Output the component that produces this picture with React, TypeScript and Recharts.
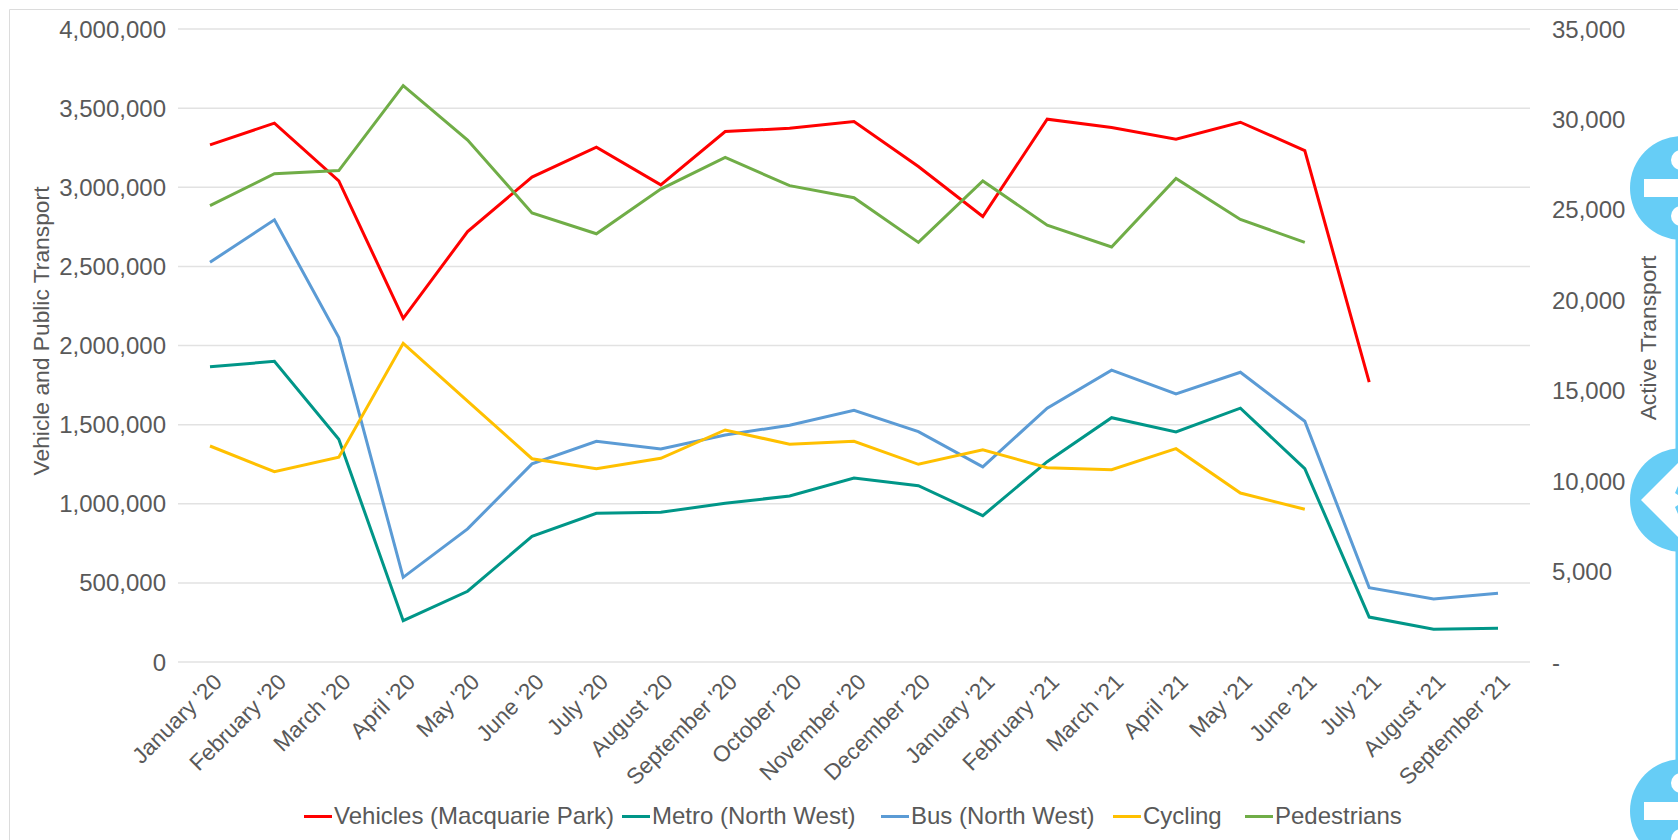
import React from "react";
import { LineChart, Line, XAxis, YAxis, CartesianGrid, Legend } from "recharts";

const months = ["January '20","February '20","March '20","April '20","May '20","June '20","July '20","August '20","September '20","October '20","November '20","December '20","January '21","February '21","March '21","April '21","May '21","June '21","July '21","August '21","September '21"];
const vehicles = [3268000,3405000,3040000,2172000,2720000,3064000,3253000,3015000,3352000,3373000,3415000,3131000,2815000,3430000,3377000,3304000,3411000,3232000,1768000,null,null];
const metro = [1865000,1900000,1408000,261000,447000,794000,940000,946000,1003000,1049000,1163000,1114000,925000,1266000,1544000,1454000,1604000,1222000,284000,207000,213000];
const bus = [2526000,2794000,2050000,535000,841000,1252000,1395000,1346000,1435000,1496000,1591000,1456000,1233000,1604000,1844000,1694000,1831000,1521000,470000,398000,434000];
const cycling = [11943,10522,11318,17620,14430,11240,10688,11262,12830,12037,12203,10931,11738,10743,10633,11794,9344,8443,null,null,null];
const pedestrians = [25230,27000,27170,31870,28860,24830,23680,26150,27900,26340,25670,23200,26600,24150,22950,26740,24470,23200,null,null,null];
const leftTicks = [0,500000,1000000,1500000,2000000,2500000,3000000,3500000,4000000];
const rightTicks = [0,5000,10000,15000,20000,25000,30000,35000];

const rows = months.map((m, i) => ({ m, vehicles: vehicles[i], metro: metro[i], bus: bus[i], cycling: cycling[i], pedestrians: pedestrians[i] }));

const FONT = '"Liberation Sans", Arial, sans-serif';
const TXT = "#595959";
const FS = 24;
const legendX = [304, 622, 881, 1113, 1245];

const LegendBox = ({ payload }: any) => (
  <div style={{ position: "relative", width: 1678, height: 40 }}>
    {(payload || []).map((p: any, i: number) => (
      <div key={p.value} style={{ position: "absolute", left: legendX[i], top: 0, height: 40, display: "flex", alignItems: "center", whiteSpace: "nowrap", font: `${FS}px ${FONT}`, color: TXT }}>
        <span style={{ display: "inline-block", width: 28, height: 3, background: p.color, marginRight: 2 }} />
        {p.value}
      </div>
    ))}
  </div>
);

const title = (text: string, x: number, y: number) => () => (
  <text x={x} y={y} transform={`rotate(-90 ${x} ${y})`} textAnchor="middle" dominantBaseline="central" fontFamily={FONT} fontSize={22.8} fill={TXT}>{text}</text>
);

const Decor = () => {
  const c = "#66CDF6";
  const divide = (cy: number) => (
    <g>
      <circle cx={1682} cy={cy} r={52} fill={c} />
      <rect x={1644} y={cy - 9} width={40} height={18} fill="#fff" />
      <circle cx={1681} cy={cy - 28} r={10} fill="#fff" />
      <circle cx={1681} cy={cy + 28} r={10} fill="#fff" />
    </g>
  );
  return (
    <svg width={1678} height={840} style={{ position: "absolute", left: 0, top: 0 }}>
      <path d="M9.5 840V9.5H1678" fill="none" stroke="#dcdcdc" strokeWidth={1} />
      <rect x={1675.5} y={230} width={3} height={610} fill={c} />
      {divide(188)}
      <circle cx={1682} cy={500} r={52} fill={c} />
      <polygon points="1641,500 1678,463 1678,537" fill="#fff" />
      <polygon points="1678,486 1675,493 1678,495" fill={c} />
      <polygon points="1678,505 1675,507 1678,514" fill={c} />
      {divide(811)}
    </svg>
  );
};

export default function App() {
  const tick = { fill: TXT, fontFamily: FONT, fontSize: FS };
  const xTick = { fill: TXT, fontFamily: FONT, fontSize: 22.5, dx: 2 };
  return (
    <div style={{ position: "fixed", left: 0, top: 0, width: 1678, height: 840, background: "#fff", overflow: "hidden" }}>
      <Decor />
      <div style={{ position: "absolute", left: 0, top: 0 }}>
        <LineChart width={1678} height={840} data={rows} margin={{ top: 29, right: 0, bottom: 0, left: 0 }}>
          <CartesianGrid vertical={false} yAxisId="left" stroke="#e2e2e2" strokeWidth={1.5} />
          <XAxis dataKey="m" xAxisId={0} height={178} interval={0} angle={-45} textAnchor="end" tick={xTick} tickLine={false} axisLine={false} tickSize={0} tickMargin={10} padding={{ left: 32, right: 32 }} />
          <YAxis yAxisId="left" width={178} domain={[0, 4000000]} ticks={leftTicks} tick={tick} tickFormatter={(v: number) => v.toLocaleString("en-US")} tickLine={false} axisLine={false} tickSize={0} tickMargin={12} label={{ content: title("Vehicle and Public Transport", 41, 331) }} />
          <YAxis yAxisId="right" orientation="right" width={148} domain={[0, 35000]} ticks={rightTicks} tick={tick} tickFormatter={(v: number) => (v === 0 ? "-" : v.toLocaleString("en-US"))} tickLine={false} axisLine={false} tickSize={0} tickMargin={22} label={{ content: title("Active Transport", 1648, 338) }} />
          <Legend layout="horizontal" verticalAlign="middle" align="center" itemSorter={null as any} wrapperStyle={{ left: 0, top: 796, width: 1678, height: 40 }} content={LegendBox as any} />
          <Line yAxisId="left" name="Vehicles (Macquarie Park)" dataKey="vehicles" stroke="#FF0000" strokeWidth={3} dot={false} isAnimationActive={false} strokeLinejoin="miter" />
          <Line yAxisId="left" name="Metro (North West)" dataKey="metro" stroke="#009688" strokeWidth={3} dot={false} isAnimationActive={false} strokeLinejoin="miter" />
          <Line yAxisId="left" name="Bus (North West)" dataKey="bus" stroke="#5B9BD5" strokeWidth={3} dot={false} isAnimationActive={false} strokeLinejoin="miter" />
          <Line yAxisId="right" name="Cycling" dataKey="cycling" stroke="#FFC000" strokeWidth={3} dot={false} isAnimationActive={false} strokeLinejoin="miter" />
          <Line yAxisId="right" name="Pedestrians" dataKey="pedestrians" stroke="#70AD47" strokeWidth={3} dot={false} isAnimationActive={false} strokeLinejoin="miter" />
        </LineChart>
      </div>
    </div>
  );
}
